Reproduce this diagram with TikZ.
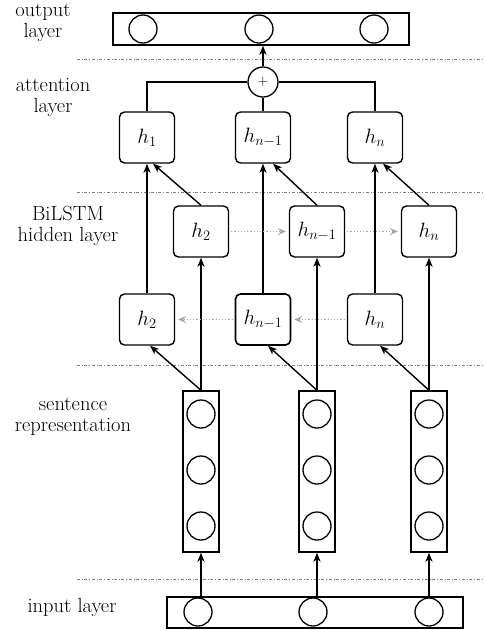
\documentclass[tikz,border=0pt]{standalone}
\usetikzlibrary{arrows.meta,calc}
\begin{document}
\begin{tikzpicture}[x=1pt,y=-1pt,
  lbl/.style={align=center,font=\fontsize{20.5}{21}\selectfont,inner sep=0pt},
  hbox/.style={draw,line width=1.4pt,rounded corners=5pt,minimum width=55pt,minimum height=51pt,inner sep=0pt,font=\fontsize{20.5}{22}\selectfont},
  neuron/.style={draw,circle,line width=1.3pt,minimum size=28pt,inner sep=0pt},
  layerbox/.style={draw,line width=1.4pt,inner sep=0pt},
  arr/.style={line width=1.4pt,-{Stealth[length=9pt,width=7pt,inset=2.5pt]}},
  conn/.style={line width=1.4pt},
  rec/.style={gray!70,dotted,line width=1.2pt,-{Stealth[length=8pt,width=7pt,inset=3pt,fill=gray!45]},shorten <=2pt,shorten >=3pt},
  sep/.style={gray,dash dot,line width=1pt}]
\useasboundingbox (0,0) rectangle (484,630);

% separators
\draw[sep] (77,59) -- (484,59);
\draw[sep] (77,192) -- (484,192);
\draw[sep] (77,365) -- (484,365);
\draw[sep] (77,579) -- (484,579);

% labels
\node[lbl] (l1) at (43,23) {output\\layer};
\node[lbl] (l2) at (53,97) {attention\\layer};
\node[lbl] (l3) at (68,226) {BiLSTM\\hidden layer};
\node[lbl] (l4) at (73,417) {sentence\\representation};
\node[lbl] (l5) at (72,607) {input layer};

% output layer
\node[layerbox,minimum width=296pt,minimum height=32pt] (outbox) at (261,29) {};
\node[neuron] (o1) at (143,29) {};
\node[neuron] (o2) at (259,29) {};
\node[neuron] (o3) at (374,29) {};

% attention
\node[draw,circle,line width=1.3pt,minimum size=30pt,inner sep=0pt,font=\fontsize{14}{14}\selectfont] (plus) at (263,82) {+};
\node[hbox] (t1) at (147,137.5) {$h_1$};
\node[hbox] (t2) at (263,137.5) {$h_{n-1}$};
\node[hbox] (t3) at (375,137.5) {$h_n$};

% BiLSTM
\node[hbox] (m1) at (201,231.5) {$h_2$};
\node[hbox] (m2) at (317,231.5) {$h_{n-1}$};
\node[hbox] (m3) at (429,231.5) {$h_n$};
\node[hbox] (b1) at (147,319.5) {$h_2$};
\node[hbox,line width=1.6pt] (b2) at (263,319.5) {$h_{n-1}$};
\node[hbox] (b3) at (375,319.5) {$h_n$};

% sentence vectors
\foreach \i/\x in {1/201,2/317,3/429}{
  \node[layerbox,minimum width=36pt,minimum height=161pt] (v\i) at (\x,471.5) {};
  \node[neuron] (v\i a) at (\x,414) {};
  \node[neuron] (v\i b) at (\x,470) {};
  \node[neuron] (v\i c) at (\x,526) {};
}

% input layer
\node[layerbox,minimum width=296pt,minimum height=31pt] (inbox) at (315,612.5) {};
\node[neuron] (i1) at (198,612) {};
\node[neuron] (i2) at (313,612) {};
\node[neuron] (i3) at (429,612) {};

% input -> vectors
\draw[arr] (inbox.north -| v1.south) -- (v1.south);
\draw[arr] (inbox.north -| v2.south) -- (v2.south);
\draw[arr] (inbox.north -| v3.south) -- (v3.south);

% vectors -> hidden
\draw[arr] (v1.north) -- (m1.south);
\draw[arr] (v2.north) -- (m2.south);
\draw[arr] (v3.north) -- (m3.south);
\draw[arr] (v1.north) -- ([xshift=3pt]b1.south);
\draw[arr] (v2.north) -- ([xshift=5pt]b2.south);
\draw[arr] (v3.north) -- ([xshift=5pt]b3.south);

% hidden -> attention
\draw[arr] (b1.north) -- (t1.south);
\draw[arr] (b2.north) -- (t2.south);
\draw[arr] (b3.north) -- (t3.south);
\draw[arr] (m1.north) -- ([xshift=6pt]t1.south);
\draw[arr] (m2.north) -- ([xshift=10pt]t2.south);
\draw[arr] (m3.north) -- ([xshift=8pt]t3.south);

% recurrent
\draw[rec] (m1.east) -- (m2.west);
\draw[rec] (m2.east) -- (m3.west);
\draw[rec] (b3.west) -- (b2.east);
\draw[rec] (b2.west) -- (b1.east);

% attention sum
\draw[conn] (t1.north) |- (plus.west);
\draw[conn] (t3.north) |- (plus.east);
\draw[conn] (t2.north) -- (plus.south);
\draw[arr] (plus.north) -- (plus.north |- outbox.south);
\end{tikzpicture}
\end{document}
